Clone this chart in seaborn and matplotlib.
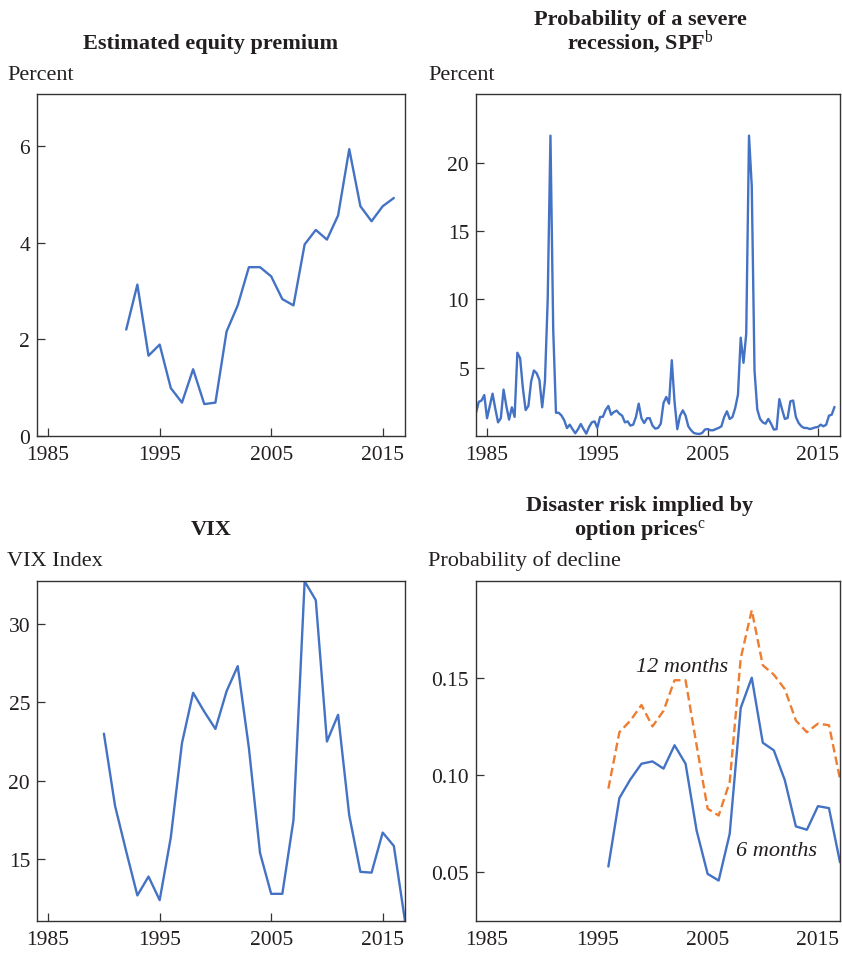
import numpy as np
import pandas as pd
import matplotlib
matplotlib.use("Agg")
import matplotlib.pyplot as plt
import seaborn as sns

# ---------------- data ----------------
ep_years = list(range(1992, 2017))
ep_values = [2.20, 3.13, 1.66, 1.89, 0.99, 0.69, 1.38, 0.66, 0.69, 2.16,
             2.70, 3.49, 3.49, 3.30, 2.83, 2.70, 3.96, 4.26, 4.06, 4.56,
             5.93, 4.75, 4.44, 4.75, 4.92]

spf_start_year = 1984
spf_values = [
    1.7, 2.5, 2.6, 3.0,      # 1984
    1.3, 2.2, 3.1, 2.0,      # 1985
    1.0, 1.3, 3.4, 2.2,      # 1986
    1.2, 2.1, 1.4, 6.1,      # 1987
    5.7, 3.5, 1.9, 2.2,      # 1988
    4.0, 4.8, 4.6, 4.1,      # 1989
    2.1, 4.0, 10.0, 22.0,    # 1990
    7.8, 1.7, 1.7, 1.5,      # 1991
    1.15, 0.58, 0.83, 0.5,   # 1992
    0.2, 0.5, 0.88, 0.5,     # 1993
    0.17, 0.66, 1.0, 1.07,   # 1994
    0.6, 1.4, 1.4, 1.9,      # 1995
    2.2, 1.56, 1.75, 1.86,   # 1996
    1.63, 1.49, 1.0, 1.07,   # 1997
    0.76, 0.83, 1.39, 2.37,  # 1998
    1.3, 0.95, 1.3, 1.3,     # 1999
    0.76, 0.54, 0.59, 0.9,   # 2000
    2.42, 2.86, 2.37, 5.55,  # 2001
    2.5, 0.5, 1.49, 1.88,    # 2002
    1.49, 0.7, 0.42, 0.22,   # 2003
    0.17, 0.15, 0.22, 0.47,  # 2004
    0.51, 0.42, 0.42, 0.51,  # 2005
    0.59, 0.71, 1.39, 1.81,  # 2006
    1.25, 1.39, 2.05, 3.03,  # 2007
    7.2, 5.36, 7.5, 22.0,    # 2008
    18.3, 4.8, 1.94, 1.25,   # 2009
    1.0, 0.9, 1.25, 0.9,     # 2010
    0.47, 0.5, 2.7, 1.94,    # 2011
    1.25, 1.32, 2.54, 2.6,   # 2012
    1.39, 0.95, 0.71, 0.59,  # 2013
    0.59, 0.51, 0.56, 0.63,  # 2014
    0.66, 0.83, 0.71, 0.83,  # 2015
    1.49, 1.56, 2.13,        # 2016
]
spf_quarters = spf_start_year + np.arange(len(spf_values)) / 4.0

vix_years = list(range(1990, 2018))
vix_values = [23.0, 18.4, 15.5, 12.7, 13.9, 12.4, 16.4, 22.4, 25.6, 24.4,
              23.3, 25.7, 27.3, 22.1, 15.4, 12.8, 12.8, 17.5, 32.7, 31.5,
              22.5, 24.2, 17.8, 14.2, 14.15, 16.7, 15.85, 11.07]

dr_years = list(range(1996, 2018))
dr_6m = [0.053, 0.0882, 0.0978, 0.1058, 0.107, 0.1033, 0.1153, 0.1058,
         0.0715, 0.0492, 0.0458, 0.0698, 0.1345, 0.150, 0.1166, 0.1127,
         0.0973, 0.0736, 0.0719, 0.084, 0.083, 0.0552]
dr_12m = [0.093, 0.122, 0.128, 0.136, 0.125, 0.133, 0.1487, 0.1487,
          0.1153, 0.0827, 0.0792, 0.0964, 0.160, 0.1847, 0.1564, 0.1516,
          0.1441, 0.128, 0.122, 0.1264, 0.1256, 0.098]

x_ticks = [1985, 1995, 2005, 2015]

# ---------------- style ----------------
sns.set_style("ticks")
plt.rcParams["font.family"] = ["Liberation Serif", "DejaVu Serif"]
plt.rcParams["mathtext.fontset"] = "custom"
plt.rcParams["mathtext.rm"] = "Liberation Serif"
plt.rcParams["mathtext.it"] = "Liberation Serif:italic"
plt.rcParams["mathtext.bf"] = "Liberation Serif:bold"

BLUE = "#4472C4"
ORANGE = "#ED7D31"
TXT = "#231F20"
SPINE = "#333333"
LW = 1.7

W, H = 842, 954
fig = plt.figure(figsize=(W / 100, H / 100), dpi=100)


def px_axes(x0, y0, x1, y1):
    return fig.add_axes([x0 / W, 1 - y1 / H, (x1 - x0) / W, (y1 - y0) / H])


ax_ep = px_axes(37, 95, 405, 437)
ax_spf = px_axes(476, 95, 840, 437)
ax_vix = px_axes(37, 582, 405, 922)
ax_dr = px_axes(476, 582, 840, 922)

df_ep = pd.DataFrame({"year": ep_years, "value": ep_values})
df_spf = pd.DataFrame({"quarter": spf_quarters, "value": spf_values})
df_vix = pd.DataFrame({"year": vix_years, "value": vix_values})
df_dr = pd.DataFrame({"year": dr_years, "six": dr_6m, "twelve": dr_12m})

sns.lineplot(data=df_ep, x="year", y="value", ax=ax_ep, color=BLUE, linewidth=LW)
sns.lineplot(data=df_spf, x="quarter", y="value", ax=ax_spf, color=BLUE, linewidth=LW)
sns.lineplot(data=df_vix, x="year", y="value", ax=ax_vix, color=BLUE, linewidth=LW)
sns.lineplot(data=df_dr, x="year", y="twelve", ax=ax_dr, color=ORANGE, linewidth=LW)
ax_dr.lines[-1].set_dashes([3.6, 1.8])
sns.lineplot(data=df_dr, x="year", y="six", ax=ax_dr, color=BLUE, linewidth=LW)

for ax in (ax_ep, ax_spf, ax_vix, ax_dr):
    ax.set_xlim(1984, 2017)
    ax.set_xticks(x_ticks)
    ax.set_xlabel("")
    ax.set_ylabel("")
    for s in ax.spines.values():
        s.set_color(SPINE)
        s.set_linewidth(1.0)
    ax.tick_params(direction="in", length=6, width=0.9, color=SPINE,
                   labelsize=15.5, labelcolor=TXT)
    ax.tick_params(axis="x", pad=6.5)
    ax.tick_params(axis="y", pad=5)

ax_ep.set_ylim(0, 7.07)
ax_ep.set_yticks([0, 2, 4, 6])

ax_spf.set_ylim(0, 25.05)
ax_spf.set_yticks([5, 10, 15, 20])

ax_vix.set_ylim(11.07, 32.72)
ax_vix.set_yticks([15, 20, 25, 30])

ax_dr.set_ylim(0.025, 0.1997)
ax_dr.set_yticks([0.05, 0.10, 0.15])
ax_dr.set_yticklabels(["0.05", "0.10", "0.15"])
ax_dr.tick_params(axis="x", length=0)

ax_dr.text(1998.5, 0.1537, "12 months", fontsize=16, style="italic", color=TXT,
           ha="left", va="baseline")
ax_dr.text(2007.6, 0.059, "6 months", fontsize=16, style="italic", color=TXT,
           ha="left", va="baseline")

# ---------------- titles / unit labels ----------------
def ftext(x, y, s, **kw):
    fig.text(x / W, 1 - y / H, s, color=TXT, va="baseline", **kw)


ftext(211, 49, "Estimated equity premium", ha="center", fontsize=16, fontweight="bold")
ftext(640, 25, "Probability of a severe", ha="center", fontsize=16, fontweight="bold")
ftext(640, 49, r"recession, SPF$^{\mathrm{b}}$", ha="center", fontsize=16, fontweight="bold")
ftext(211, 535, "VIX", ha="center", fontsize=16, fontweight="bold")
ftext(640, 511, "Disaster risk implied by", ha="center", fontsize=16, fontweight="bold")
ftext(640, 535, r"option prices$^{\mathrm{c}}$", ha="center", fontsize=16, fontweight="bold")

ftext(7, 80, "Percent", ha="left", fontsize=16)
ftext(428, 80, "Percent", ha="left", fontsize=16)
ftext(7, 566, "VIX Index", ha="left", fontsize=16)
ftext(428, 566, "Probability of decline", ha="left", fontsize=16)

fig.savefig("out.png", dpi=100)
